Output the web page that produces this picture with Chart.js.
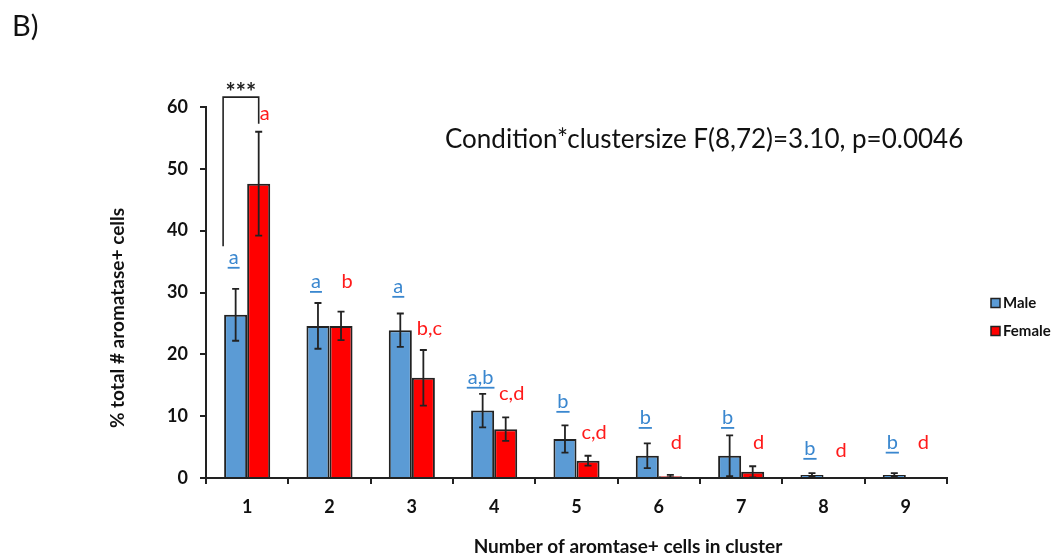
<!DOCTYPE html>
<html>
<head>
<meta charset="utf-8">
<script src="https://cdn.jsdelivr.net/npm/chart.js@4.4.1/dist/chart.umd.min.js"></script>
<style>
  html, body { margin: 0; padding: 0; background: #fff; }
  #wrap { width: 1057px; height: 556px; }
</style>
</head>
<body>
<div id="wrap"><canvas id="c" width="1057" height="556"></canvas></div>
<script>
// cluster sizes
const clusterSizes = ['1', '2', '3', '4', '5', '6', '7', '8', '9'];

// mean % of aromatase+ cells
const maleValues   = [26.4, 24.6, 23.9, 10.9, 6.3, 3.6, 3.6, 0.5, 0.5];
const femaleValues = [47.6, 24.6, 16.2, 7.9, 2.8, 0.3, 1.0, 0.0, 0.0];

// error bar half-widths
const maleErr   = [4.2, 3.7, 2.7, 2.7, 2.2, 2.0, 3.3, 0.3, 0.3];
const femaleErr = [8.4, 2.3, 4.5, 1.9, 0.8, 0.2, 0.9, 0.0, 0.0];

// significance letters and where they sit (in % units)
const maleLetters   = ['a', 'a', 'a', 'a,b', 'b', 'b', 'b', 'b', 'b'];
const maleLetterY   = [35.6, 31.7, 30.9, 16.2, 12.3, 9.7, 9.7, 4.7, 5.7];
const femaleLetters = ['a', 'b', 'b,c', 'c,d', 'c,d', 'd', 'd', 'd', 'd'];
const femaleLetterY = [59.0, 31.7, 24.1, 13.7, 7.3, 5.7, 5.7, 4.5, 5.7];

const yTicks = [0, 10, 20, 30, 40, 50, 60];

const statText = 'Condition*clustersize F(8,72)=3.10, p=0.0046';
const FONT = 'Lato, "Liberation Sans", sans-serif';
const INK = '#222';

const extras = {
    id: 'extras',
    afterDatasetsDraw(chart) {
        const ctx = chart.ctx;
        const y = chart.scales.y;
        const metaM = chart.getDatasetMeta(0);
        const metaF = chart.getDatasetMeta(1);

        // error bars
        ctx.save();
        ctx.strokeStyle = INK;
        ctx.lineWidth = 1.8;
        [[metaM, maleValues, maleErr], [metaF, femaleValues, femaleErr]].forEach(([meta, vals, errs]) => {
            meta.data.forEach((bar, i) => {
                if (!errs[i]) return;
                const top = y.getPixelForValue(vals[i] + errs[i]);
                const bot = y.getPixelForValue(Math.max(vals[i] - errs[i], 0));
                ctx.beginPath();
                ctx.moveTo(bar.x, top); ctx.lineTo(bar.x, bot);
                ctx.moveTo(bar.x - 3.5, top); ctx.lineTo(bar.x + 3.5, top);
                ctx.moveTo(bar.x - 3.5, bot); ctx.lineTo(bar.x + 3.5, bot);
                ctx.stroke();
            });
        });
        ctx.restore();

        // letters
        ctx.save();
        ctx.font = '20px ' + FONT;
        ctx.textAlign = 'center';
        ctx.textBaseline = 'middle';
        metaM.data.forEach((bar, i) => {
            const px = bar.x - 2;
            const py = y.getPixelForValue(maleLetterY[i]);
            ctx.fillStyle = '#3a87cf';
            ctx.fillText(maleLetters[i], px, py);
            const w = ctx.measureText(maleLetters[i]).width;
            ctx.fillRect(px - w / 2 - 1, py + 9, w + 2, 1.8);
        });
        metaF.data.forEach((bar, i) => {
            ctx.fillStyle = '#ff1a1a';
            ctx.fillText(femaleLetters[i], bar.x + 6, y.getPixelForValue(femaleLetterY[i]));
        });
        ctx.restore();

        // significance bracket between the two bars of cluster 1
        const m0 = metaM.data[0], f0 = metaF.data[0];
        const lx = m0.x - m0.width / 2 - 1;
        ctx.save();
        ctx.strokeStyle = INK;
        ctx.lineWidth = 1.6;
        ctx.beginPath();
        ctx.moveTo(lx, y.getPixelForValue(37.5));
        ctx.lineTo(lx, y.getPixelForValue(61.6));
        ctx.lineTo(f0.x, y.getPixelForValue(61.6));
        ctx.lineTo(f0.x, y.getPixelForValue(57.3));
        ctx.stroke();
        ctx.fillStyle = INK;
        ctx.font = 'bold 24px ' + FONT;
        ctx.textAlign = 'center';
        ctx.textBaseline = 'middle';
        ctx.fillText('***', (lx + f0.x) / 2, y.getPixelForValue(61.6) - 4);
        ctx.restore();
    },
    afterDraw(chart) {
        const ctx = chart.ctx;
        ctx.save();
        ctx.fillStyle = '#111';
        ctx.textBaseline = 'middle';

        // panel label
        ctx.font = '29px ' + FONT;
        ctx.textAlign = 'left';
        ctx.fillText('B)', 12, 27);

        // stats text
        ctx.font = '26px ' + FONT;
        ctx.fillText(statText, 445, 140);

        // axis titles
        ctx.font = 'bold 19px ' + FONT;
        ctx.textAlign = 'center';
        ctx.fillText('Number of aromtase+ cells in cluster', 628, 547);
        ctx.translate(118, 318);
        ctx.rotate(-Math.PI / 2);
        ctx.fillText('% total # aromatase+ cells', 0, 0);
        ctx.restore();

        // legend
        ctx.save();
        ctx.font = 'bold 15px ' + FONT;
        ctx.textBaseline = 'middle';
        chart.data.datasets.forEach((ds, i) => {
            const cy = 303 + i * 28;
            ctx.fillStyle = ds.backgroundColor;
            ctx.fillRect(991, cy - 4.5, 9, 9);
            ctx.strokeStyle = INK;
            ctx.lineWidth = 1.5;
            ctx.strokeRect(991, cy - 4.5, 9, 9);
            ctx.fillStyle = '#111';
            ctx.fillText(ds.label, 1003, cy);
        });
        ctx.restore();
    }
};

new Chart(document.getElementById('c'), {
    type: 'bar',
    data: {
        labels: clusterSizes,
        datasets: [
            { label: 'Male', data: maleValues, backgroundColor: '#5b9bd5', borderColor: INK, borderWidth: 2 },
            { label: 'Female', data: femaleValues, backgroundColor: '#ff0000', borderColor: INK, borderWidth: 2 }
        ]
    },
    options: {
        responsive: false,
        animation: false,
        layout: { padding: { top: 107, right: 110, left: 0, bottom: 0 } },
        datasets: { bar: { categoryPercentage: 0.56, barPercentage: 1.0 } },
        plugins: { legend: { display: false }, tooltip: { enabled: false } },
        scales: {
            x: {
                grid: { drawOnChartArea: false, drawTicks: true, tickLength: 6, color: INK, lineWidth: 2, offset: true },
                border: { color: INK, width: 2 },
                ticks: { color: '#111', font: { family: FONT, size: 18, weight: 'bold' }, padding: 12 },
                afterFit: s => { s.height = 78; }
            },
            y: {
                min: 0,
                max: 60,
                afterBuildTicks: s => { s.ticks = yTicks.map(v => ({ value: v })); },
                grid: { drawOnChartArea: false, drawTicks: true, tickLength: 6, color: INK, lineWidth: 2 },
                border: { color: INK, width: 2 },
                ticks: { color: '#111', font: { family: FONT, size: 18, weight: 'bold' }, padding: 12 },
                afterFit: s => { s.width = 206; }
            }
        }
    },
    plugins: [extras]
});
</script>
</body>
</html>
